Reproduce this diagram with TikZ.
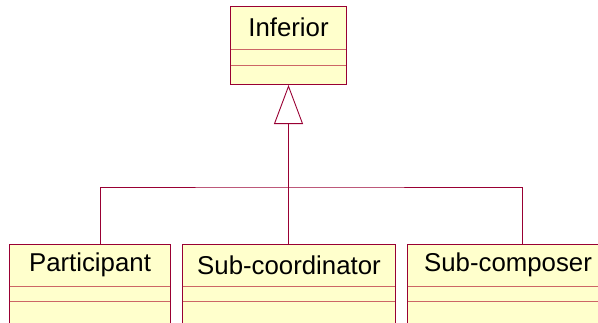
\documentclass[tikz,border=0pt]{standalone}
\usepackage{fontspec}
\setmainfont{Liberation Sans}
\usetikzlibrary{arrows.meta,calc}
\definecolor{umlfill}{RGB}{255,255,204}
\definecolor{umlborder}{RGB}{153,0,51}
\definecolor{umlsep}{RGB}{204,102,102}

\begin{document}
\begin{tikzpicture}[x=1pt, y=-1pt,
    cls/.style={draw=umlborder, fill=umlfill, line width=1pt, inner sep=0pt, anchor=north west},
    clsname/.style={anchor=north, inner sep=0pt, font=\fontsize{25.8}{30}\selectfont},
    conn/.style={draw=umlborder, line width=0.9pt}]
    \useasboundingbox (0,0) rectangle (598,322);
    \clip (0,0) rectangle (598,322);

    % Superclass
    \node[cls, minimum width=116pt, minimum height=78pt] (inf) at (230,6) {};
    \node[clsname, minimum height=43pt] at (inf.north) {Inferior};
    \draw[umlsep] (230.5,49) -- (345.5,49) (230.5,65) -- (345.5,65);

    % Subclasses
    \node[cls, minimum width=161pt, minimum height=100pt] (part) at (9,244) {};
    \node[clsname, minimum height=42pt] at (part.north) {Participant};
    \draw[umlsep] (9.5,286) -- (169.5,286) (9.5,301) -- (169.5,301);

    \node[cls, minimum width=213pt, minimum height=100pt] (sub) at (182,244) {};
    \node[clsname, minimum height=42pt] at (sub.north) {Sub-coordinator};
    \draw[umlsep] (182.5,286) -- (394.5,286) (182.5,301) -- (394.5,301);

    \node[cls, minimum width=229pt, minimum height=100pt] (comp) at (407,244) {};
    \node[clsname, minimum height=42pt, xshift=-14pt] at (comp.north) {Sub-composer};
    \draw[umlsep] (407.5,286) -- (635.5,286) (407.5,301) -- (635.5,301);

    % Generalisation
    \coordinate (pj) at ($(part.north)+(10,0)$);
    \coordinate (bar) at (inf.south |- 0,187);
    \draw[conn] (pj) |- (bar) -| (comp.north);
    \draw[conn, -{Triangle[open, width=29pt, length=39pt, fill=white]}] (inf.south |- sub.north) -- (inf.south);
\end{tikzpicture}
\end{document}
